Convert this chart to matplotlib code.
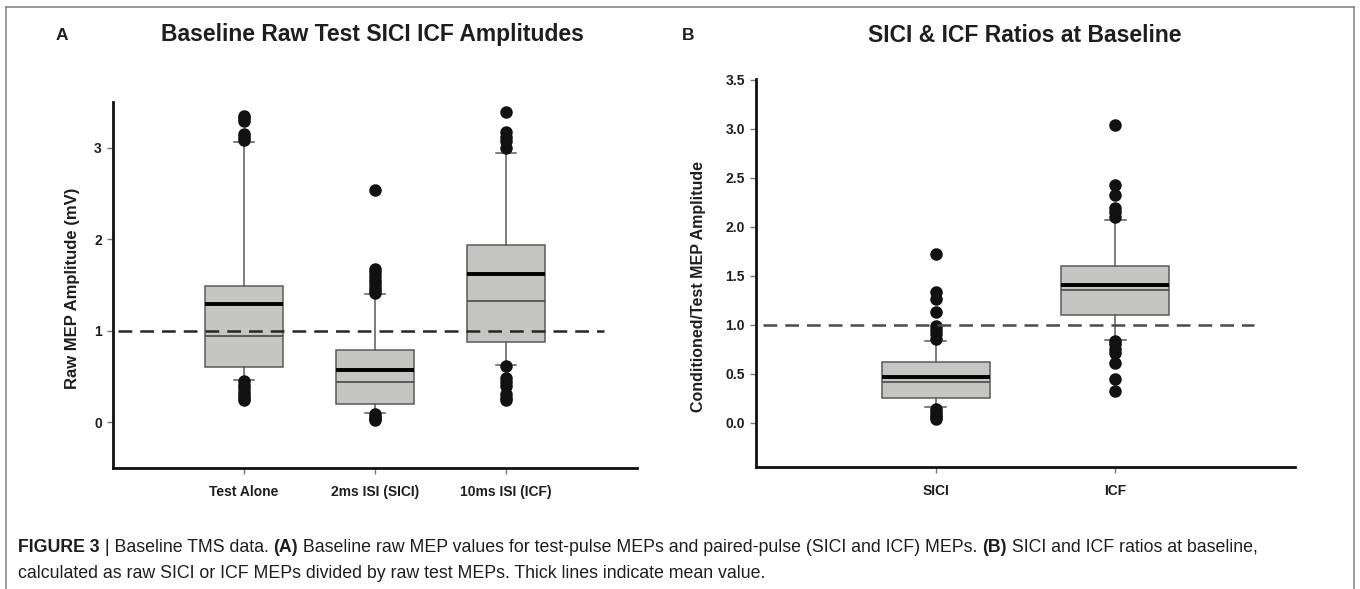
import matplotlib
matplotlib.use("Agg")
import matplotlib.pyplot as plt
from matplotlib import font_manager
from matplotlib.lines import Line2D

# ---------------- data ----------------
a_categories = ["Test Alone", "2ms ISI (SICI)", "10ms ISI (ICF)"]
a_q1 = [0.60, 0.20, 0.88]
a_median = [0.94, 0.44, 1.32]
a_q3 = [1.49, 0.79, 1.94]
a_mean = [1.29, 0.57, 1.62]
a_whislo = [0.46, 0.10, 0.63]
a_whishi = [3.06, 1.40, 2.94]
a_fliers_test = [3.35, 3.32, 3.29, 3.15, 3.12, 3.09, 0.45, 0.41, 0.37, 0.33, 0.30, 0.27, 0.24]
a_fliers_sici = [2.54, 1.68, 1.64, 1.60, 1.56, 1.52, 1.48, 1.44, 1.41, 0.09, 0.06, 0.04, 0.02]
a_fliers_icf = [3.39, 3.17, 3.12, 3.07, 3.00, 0.62, 0.48, 0.44, 0.40, 0.31, 0.27, 0.24]
a_yticks = [0, 1, 2, 3]

b_categories = ["SICI", "ICF"]
b_q1 = [0.25, 1.10]
b_median = [0.42, 1.36]
b_q3 = [0.62, 1.60]
b_mean = [0.47, 1.41]
b_whislo = [0.16, 0.85]
b_whishi = [0.84, 2.07]
b_fliers_sici = [1.72, 1.34, 1.26, 1.13, 0.99, 0.95, 0.91, 0.86, 0.14, 0.11, 0.08, 0.06, 0.04]
b_fliers_icf = [3.04, 2.43, 2.33, 2.19, 2.15, 2.10, 0.84, 0.81, 0.75, 0.71, 0.61, 0.45, 0.33]
b_yticks = [0.0, 0.5, 1.0, 1.5, 2.0, 2.5, 3.0, 3.5]

reference_level = 1.0

title_a = "Baseline Raw Test SICI ICF Amplitudes"
title_b = "SICI & ICF Ratios at Baseline"
ylabel_a = "Raw MEP Amplitude (mV)"
ylabel_b = "Conditioned/Test MEP Amplitude"

caption_line1 = [("FIGURE 3", True), (" | Baseline TMS data. ", False), ("(A)", True),
                 (" Baseline raw MEP values for test-pulse MEPs and paired-pulse (SICI and ICF) MEPs. ", False),
                 ("(B)", True), (" SICI and ICF ratios at baseline,", False)]
caption_line2 = [("calculated as raw SICI or ICF MEPs divided by raw test MEPs. Thick lines indicate mean value.", False)]

# ---------------- style ----------------
FONT = "Liberation Sans"
names = {f.name for f in font_manager.fontManager.ttflist}
CAP_FONT = "Liberation Sans Narrow" if "Liberation Sans Narrow" in names else "Liberation Sans"
plt.rcParams["font.family"] = [FONT, "DejaVu Sans"]

W, H = 1360, 589
fig = plt.figure(figsize=(W / 100, H / 100), dpi=100)
fig.patch.set_facecolor("white")


def fx(px):
    return px / W


def fy(py):
    return 1 - py / H


BOX_FACE = "#c5c5c3"
EDGE = "#5a5a5a"
TXT = "#1e1e1e"


def make_stats(q1, med, q3, mean, lo, hi, fliers):
    out = []
    for i in range(len(q1)):
        out.append(dict(q1=q1[i], med=med[i], q3=q3[i], mean=mean[i],
                        whislo=lo[i], whishi=hi[i], fliers=fliers[i]))
    return out


def style_axes(ax):
    for s in ["top", "right"]:
        ax.spines[s].set_visible(False)
    for s in ["left", "bottom"]:
        ax.spines[s].set_linewidth(2.0)
        ax.spines[s].set_color("#111111")
    ax.tick_params(axis="both", length=4, width=1.0, color="#777777",
                   labelsize=10, pad=4)
    ax.tick_params(axis="x", pad=8)
    for lab in ax.get_xticklabels() + ax.get_yticklabels():
        lab.set_fontweight("bold")
        lab.set_color(TXT)


def draw_panel(ax, stats, cats, capw, xlim, ylim, yticks, yfmt, dash_start, dash_end, dash_col):
    ax.bxp(stats, positions=list(range(1, len(cats) + 1)), widths=0.6,
           capwidths=capw, patch_artist=True, showmeans=True, meanline=True,
           boxprops=dict(facecolor=BOX_FACE, edgecolor=EDGE, linewidth=1.1),
           whiskerprops=dict(color=EDGE, linewidth=1.1),
           capprops=dict(color=EDGE, linewidth=1.1),
           medianprops=dict(color="#4a4a4a", linewidth=1.2),
           meanprops=dict(color="#000000", linewidth=2.8, linestyle="-"),
           flierprops=dict(marker="o", markerfacecolor="#111111",
                           markeredgecolor="#111111", markersize=8))
    ax.plot([dash_start, dash_end], [reference_level, reference_level],
            color=dash_col, lw=1.8, linestyle=(0, (5.5, 3.2)), zorder=5)
    ax.set_xlim(*xlim)
    ax.set_ylim(*ylim)
    ax.set_xticks(list(range(1, len(cats) + 1)))
    ax.set_xticklabels(cats)
    ax.set_yticks(yticks)
    ax.set_yticklabels([yfmt.format(v) for v in yticks])
    style_axes(ax)


# Panel A
axA = fig.add_axes([fx(113), fy(468), fx(637) - fx(113), fy(102) - fy(468)])
statsA = make_stats(a_q1, a_median, a_q3, a_mean, a_whislo, a_whishi,
                    [a_fliers_test, a_fliers_sici, a_fliers_icf])
draw_panel(axA, statsA, a_categories, 0.16, (0, 4), (-0.5, 3.5), a_yticks, "{:.0f}",
           0.04, 3.75, "#262626")

# Panel B
axB = fig.add_axes([fx(756), fy(467), fx(1295) - fx(756), fy(79) - fy(467)])
statsB = make_stats(b_q1, b_median, b_q3, b_mean, b_whislo, b_whishi,
                    [b_fliers_sici, b_fliers_icf])
draw_panel(axB, statsB, b_categories, 0.12, (0, 3), (-0.45, 3.51), b_yticks, "{:.1f}",
           0.04, 2.77, "#4a4a4a")

# y labels as figure text
fig.text(fx(72), fy(288), ylabel_a, rotation=90, ha="center", va="center",
         fontsize=12, fontweight="bold", color=TXT)
fig.text(fx(699), fy(287), ylabel_b, rotation=90, ha="center", va="center",
         fontsize=11.5, fontweight="bold", color=TXT)

# Titles and panel letters
fig.text(fx(372), fy(35), title_a, ha="center", va="center", fontsize=16.5,
         fontweight="bold", color=TXT)
fig.text(fx(1025), fy(35), title_b, ha="center", va="center", fontsize=16.5,
         fontweight="bold", color=TXT)
fig.text(fx(62), fy(35), "A", ha="center", va="center", fontsize=12.5,
         fontweight="bold", color=TXT)
fig.text(fx(688), fy(35), "B", ha="center", va="center", fontsize=12.5,
         fontweight="bold", color=TXT)

# frame around the figure
frame_col = "#8a8a8a"
fig.add_artist(Line2D([fx(6), fx(1354)], [fy(7), fy(7)], color=frame_col, lw=1.2))
fig.add_artist(Line2D([fx(6), fx(6)], [fy(7), 0], color=frame_col, lw=1.2))
fig.add_artist(Line2D([fx(1354), fx(1354)], [fy(7), 0], color=frame_col, lw=1.2))

# caption with mixed bold / regular runs
renderer = fig.canvas.get_renderer()


def rich_line(x0, y, segs, size):
    x = x0
    arts = []
    for txt, bold in segs:
        t = fig.text(x, y, txt, ha="left", va="center", fontsize=size,
                     fontweight="bold" if bold else "normal",
                     family=[CAP_FONT, "DejaVu Sans"], color=TXT)
        bb = t.get_window_extent(renderer=renderer)
        x = x + bb.width / W
        arts.append(t)
    return arts, x


def line_width(segs, size):
    arts, xend = rich_line(0, -1, segs, size)
    for a in arts:
        a.remove()
    return xend * W


target = 1240.0
base = 11.0
wbase = line_width(caption_line1, base)
cap_size = base * target / wbase
rich_line(fx(18), fy(547), caption_line1, cap_size)
rich_line(fx(18), fy(573), caption_line2, cap_size)

fig.savefig("out.png", dpi=100, facecolor="white")
